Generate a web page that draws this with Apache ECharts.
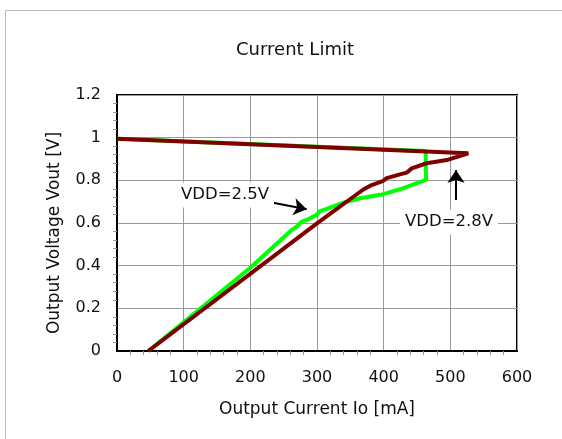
<!DOCTYPE html>
<html>
<head>
<meta charset="utf-8">
<script src="https://cdn.jsdelivr.net/npm/echarts@6/dist/echarts.min.js"></script>
<style>html,body{margin:0;padding:0;background:#fff;}#c{width:562px;height:439px;}</style>
</head>
<body>
<div id="c"></div>
<script>
// ---- data (Output Current Io [mA], Output Voltage Vout [V]) ----
var vdd25_current = [0, 463, 463.5, 452, 424.5, 399.5, 364.5, 339.5, 314.5, 304.5, 302, 299.5, 284.5, 277, 269.5, 262, 259.5, 200, 47];
var vdd25_voltage = [0.995, 0.937, 0.802, 0.789, 0.758, 0.735, 0.716, 0.695, 0.666, 0.656, 0.653, 0.638, 0.614, 0.606, 0.583, 0.567, 0.559, 0.39, 0.0];
var vdd28_current = [0, 527, 494.5, 464.5, 442, 434.5, 424.5, 404.5, 399.5, 382, 369.5, 300, 47];
var vdd28_voltage = [0.995, 0.927, 0.895, 0.88, 0.856, 0.836, 0.828, 0.81, 0.798, 0.778, 0.757, 0.598, 0.0];
var xTicks = [0, 100, 200, 300, 400, 500, 600];
var yTicks = [0, 0.2, 0.4, 0.6, 0.8, 1.0, 1.2];
var labelTexts = ['VDD=2.5V', 'VDD=2.8V'];
var labelCurrent = [162, 498];
var labelVoltage = [0.731, 0.605];
var arrowFromCurrent = [226.5, 508.5];
var arrowFromVoltage = [0.700, 0.708];
var arrowToCurrent = [284.5, 508.5];
var arrowToVoltage = [0.664, 0.849];

function pairs(xs, ys) { return xs.map(function (x, i) { return [x, ys[i]]; }); }

var FONT = 'DejaVu Sans';
var chart = echarts.init(document.getElementById('c'), null, { renderer: 'canvas' });

var markPts = labelTexts.map(function (t, i) {
  return {
    coord: [labelCurrent[i], labelVoltage[i]],
    symbol: 'rect', symbolSize: 0,
    label: {
      show: true, position: 'inside', formatter: t, color: '#111',
      fontFamily: FONT, fontSize: 16.5, backgroundColor: '#fff', padding: [4, 5, 4, 5]
    }
  };
});
var markLns = arrowFromCurrent.map(function (x, i) {
  return [{ coord: [x, arrowFromVoltage[i]] }, { coord: [arrowToCurrent[i], arrowToVoltage[i]] }];
});

chart.setOption({
  animation: false,
  backgroundColor: '#fff',
  title: {
    text: 'Current Limit', left: 290, top: 36, textAlign: 'center',
    textStyle: { fontFamily: FONT, fontSize: 18, fontWeight: 'normal', color: '#111' }
  },
  grid: { left: 117, right: 45, top: 95, bottom: 88, show: true, borderColor: '#000', borderWidth: 2, containLabel: false },
  xAxis: {
    type: 'value', min: xTicks[0], max: xTicks[xTicks.length - 1], interval: 100,
    name: 'Output Current Io [mA]', nameLocation: 'middle', nameGap: 50,
    nameTextStyle: { fontFamily: FONT, fontSize: 17, color: '#111' },
    axisLine: { show: true, lineStyle: { color: '#000', width: 2 } },
    axisTick: { show: false },
    minorTick: { show: true, splitNumber: 5, length: 4, lineStyle: { color: '#999' } },
    axisLabel: { fontFamily: FONT, fontSize: 16, color: '#111', margin: 19 },
    splitLine: { show: true, lineStyle: { color: '#999', width: 1 } }
  },
  yAxis: {
    type: 'value', min: yTicks[0], max: yTicks[yTicks.length - 1], interval: 0.2,
    name: 'Output Voltage Vout [V]', nameLocation: 'middle', nameGap: 54,
    nameTextStyle: { fontFamily: FONT, fontSize: 17, color: '#111', padding: [0, 20, 0, 0] },
    axisLine: { show: true, lineStyle: { color: '#000', width: 2 } },
    axisTick: { show: false },
    minorTick: { show: true, splitNumber: 5, length: 4, lineStyle: { color: '#999' } },
    axisLabel: { fontFamily: FONT, fontSize: 16, color: '#111', margin: 16,
      formatter: function (v) { return String(Math.round(v * 10) / 10); } },
    splitLine: { show: true, lineStyle: { color: '#999', width: 1 } }
  },
  graphic: [{
    type: 'rect', shape: { x: 5.5, y: 10.5, width: 700, height: 600 },
    style: { fill: 'none', stroke: '#bbb', lineWidth: 1 }, silent: true, z: 0
  }],
  series: [
    {
      name: 'VDD=2.5V', type: 'line', data: pairs(vdd25_current, vdd25_voltage),
      showSymbol: false, symbol: 'none', lineStyle: { color: '#00ff00', width: 4 }, z: 3
    },
    {
      name: 'VDD=2.8V', type: 'line', data: pairs(vdd28_current, vdd28_voltage),
      showSymbol: false, symbol: 'none', lineStyle: { color: '#800000', width: 4 }, z: 4,
      markPoint: { data: markPts, z: 6 },
      markLine: {
        silent: true, symbol: ['none', 'arrow'], symbolSize: 13,
        lineStyle: { color: '#000', width: 2, type: 'solid' },
        itemStyle: { color: '#000' }, label: { show: false },
        data: markLns, z: 6
      }
    }
  ]
});
</script>
</body>
</html>
